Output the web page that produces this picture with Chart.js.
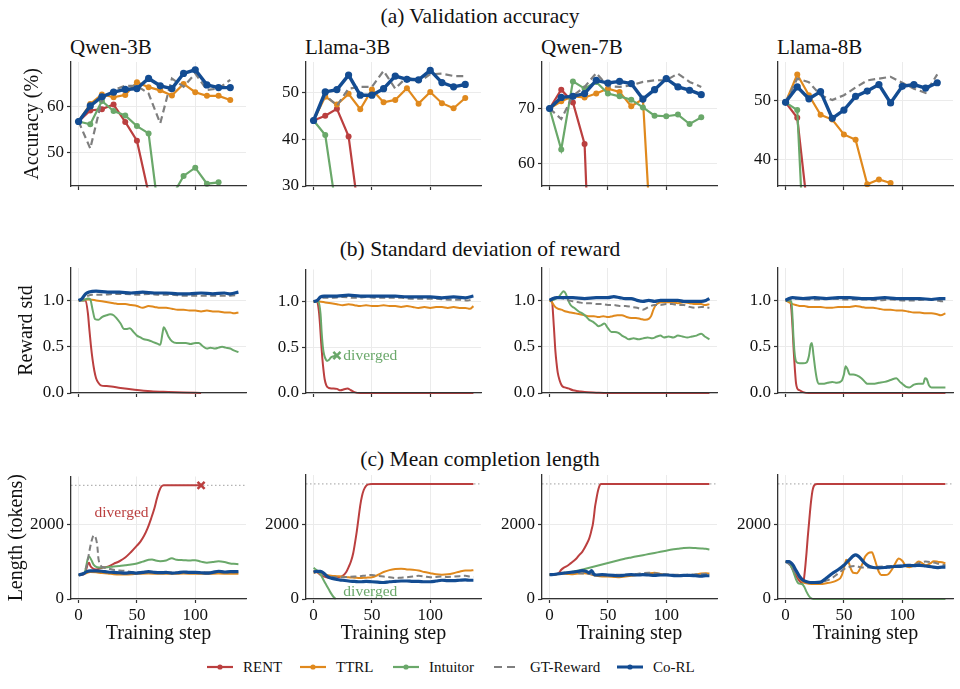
<!DOCTYPE html>
<html>
<head>
<meta charset="utf-8">
<script src="https://cdn.jsdelivr.net/npm/chart.js@4.4.1/dist/chart.umd.min.js"></script>
<style>
  html, body { margin: 0; padding: 0; background: #fff; }
  #fig { position: relative; width: 960px; height: 689px; overflow: hidden;
         font-family: "Liberation Serif", "Times New Roman", serif; color: #111; }
  #fig canvas { position: absolute; }
  .sec { position: absolute; left: 0; width: 960px; text-align: center; font-size: 21.5px; line-height: 22px; }
  .sub { position: absolute; font-size: 21px; line-height: 21px; white-space: nowrap; }
  .leg { position: absolute; top: 658px; font-size: 15px; line-height: 18px; display: flex; align-items: center; white-space: nowrap; }
  .leg svg { margin-right: 10px; }
</style>
</head>
<body>
<div id="fig">
  <div class="sec" style="top:5px">(a) Validation accuracy</div>
  <div class="sec" style="top:238px">(b) Standard deviation of reward</div>
  <div class="sec" style="top:448px">(c) Mean completion length</div>
</div>
<script>
// ---- labels ----
const models = ['Qwen-3B', 'Llama-3B', 'Qwen-7B', 'Llama-8B'];
const methods = ['RENT', 'TTRL', 'Intuitor', 'GT-Reward', 'Co-RL'];
const xTicks = [0, 50, 100];
const accTicks = [[50, 60], [30, 40, 50], [60, 70], [40, 50]];
const accRange = [[42.6, 69.7], [30, 56.5], [56, 78.4], [35.6, 56.5]];
const stdTicks = [0, 0.5, 1.0];
const lenTicks = [0, 2000];
const maxLen = 3072;

// ---- (a) validation accuracy, evaluated every 10 steps ----
const accSteps = [0, 10, 20, 30, 40, 50, 60, 70, 80, 90, 100, 110, 120, 130];

const accQwen3B_RENT = [56.7, 59.1, 59.4, 60.4, 56.6, 52.5, 41.0];
const accQwen3B_TTRL = [56.7, 60.5, 62.6, 62.0, 62.5, 65.3, 64.2, 63.5, 62.4, 64.9, 63.1, 62.3, 62.3, 61.4];
const accQwen3B_Intuitor = [56.7, 56.1, 61.2, 59.0, 58.0, 55.7, 54.1, 34.0, 40.3, 44.8, 46.6, 43.1, 43.4];
const accQwen3B_GT = [56.7, 50.8, 61.4, 63.6, 64.5, 64.5, 62.8, 56.3, 66.1, 64.3, 67.2, 63.6, 63.9, 65.8];
const accQwen3B_CoRL = [56.7, 60.1, 62.1, 63.1, 63.7, 63.9, 66.1, 64.5, 63.9, 67.2, 68.0, 64.7, 64.1, 64.1];

const accLlama3B_RENT = [44.0, 45.0, 46.5, 40.6, 21.7];
const accLlama3B_TTRL = [44.0, 49.1, 47.4, 49.7, 46.4, 50.6, 47.9, 48.4, 50.9, 47.6, 50.1, 47.7, 46.6, 48.8];
const accLlama3B_Intuitor = [44.0, 40.9, 24.0];
const accLlama3B_GT = [44.0, 49.4, 47.2, 50.8, 51.2, 51.2, 54.6, 50.8, 53.3, 52.2, 53.9, 54.0, 53.5, 53.5];
const accLlama3B_CoRL = [44.0, 50.1, 50.6, 53.7, 49.4, 49.4, 50.8, 53.5, 52.8, 52.7, 54.7, 52.1, 51.2, 51.7];

const accQwen7B_RENT = [70.0, 73.4, 71.1, 63.6, 10.0];
const accQwen7B_TTRL = [70.0, 71.3, 72.2, 72.0, 72.7, 73.6, 73.0, 70.4, 71.7, 35.0];
const accQwen7B_Intuitor = [70.0, 62.6, 74.9, 73.6, 74.8, 72.7, 72.2, 71.6, 70.2, 68.7, 68.6, 68.9, 67.2, 68.4];
const accQwen7B_GT = [70.0, 68.1, 72.3, 73.9, 76.4, 74.0, 73.9, 74.2, 74.8, 75.1, 75.1, 76.3, 74.8, 73.9];
const accQwen7B_CoRL = [70.0, 72.0, 72.2, 72.7, 75.1, 74.6, 74.9, 74.5, 71.7, 73.4, 75.4, 73.9, 73.3, 72.5];

const accLlama8B_RENT = [49.7, 47.1, 29.6];
const accLlama8B_TTRL = [49.7, 54.4, 50.9, 47.6, 46.8, 44.3, 43.4, 35.9, 36.7, 36.1];
const accLlama8B_Intuitor = [49.7, 48.4, 8.0];
const accLlama8B_GT = [49.7, 53.7, 53.1, 50.9, 50.1, 50.9, 52.2, 53.4, 53.7, 54.0, 53.0, 52.0, 51.3, 54.4];
const accLlama8B_CoRL = [49.7, 52.3, 50.3, 51.5, 47.0, 48.4, 50.7, 51.6, 52.7, 49.6, 52.4, 52.7, 52.1, 53.0];

// ---- (b) reward std, [step, value] ----
const stdQwen3B_RENT = [[0,1.0],[6,1.0],[8,0.86],[9,0.72],[10.5,0.52],[12,0.36],[13.5,0.24],[15,0.16],[17,0.11],[19,0.083],[24,0.075],[28,0.07],[36,0.054],[48,0.036],[62,0.02],[77,0.012],[90,0.006],[105,0.0]];
const stdQwen3B_TTRL = [[0,1.0],[5,1.01],[10,1.01],[15,1.0],[20,0.99],[25,0.98],[30,0.97],[35,0.96],[40,0.96],[45,0.95],[50,0.94],[55,0.92],[60,0.94],[65,0.93],[70,0.92],[75,0.92],[80,0.91],[85,0.9],[90,0.9],[95,0.89],[100,0.89],[105,0.88],[110,0.89],[115,0.88],[120,0.88],[125,0.87],[130,0.87],[133,0.86],[137,0.87]];
const stdQwen3B_Intuitor = [[0,1.0],[4,1.0],[8,1.02],[10,1.01],[12,0.9],[14,0.8],[17,0.79],[20,0.82],[24,0.84],[27,0.85],[30,0.84],[33,0.8],[36,0.75],[39,0.69],[41,0.69],[44,0.7],[47,0.66],[50,0.62],[53,0.6],[56,0.58],[60,0.57],[64,0.55],[68,0.53],[70,0.52],[72,0.65],[73,0.71],[75,0.67],[77,0.61],[80,0.56],[84,0.54],[88,0.54],[92,0.54],[96,0.53],[100,0.54],[103,0.54],[106,0.51],[110,0.48],[113,0.49],[117,0.48],[120,0.49],[123,0.5],[126,0.49],[130,0.48],[133,0.46],[137,0.44]];
const stdQwen3B_GT = [[0,1.0],[4,1.02],[8,1.05],[12,1.06],[20,1.06],[30,1.07],[40,1.07],[50,1.06],[60,1.07],[70,1.06],[80,1.06],[90,1.05],[100,1.05],[110,1.05],[120,1.05],[130,1.05],[137,1.06]];
const stdQwen3B_CoRL = [[0,1.0],[3,1.02],[6,1.07],[9,1.09],[15,1.1],[25,1.09],[35,1.09],[45,1.08],[55,1.09],[65,1.08],[75,1.08],[85,1.07],[95,1.07],[105,1.08],[115,1.07],[125,1.08],[130,1.07],[137,1.09]];

const stdLlama3B_RENT = [[0,1.0],[3,1.0],[4.5,0.9],[5.5,0.75],[6.5,0.55],[7.5,0.38],[8.5,0.25],[9.5,0.15],[11,0.08],[13,0.055],[16,0.05],[20,0.045],[23,0.03],[26,0.04],[29,0.05],[32,0.03],[35,0.01],[40,0.0],[137,0.0]];
const stdLlama3B_TTRL = [[0,1.0],[5,1.0],[10,0.99],[15,0.98],[20,0.97],[25,0.96],[30,0.97],[35,0.96],[40,0.95],[45,0.96],[50,0.95],[55,0.95],[60,0.96],[65,0.95],[70,0.95],[75,0.94],[80,0.95],[85,0.94],[90,0.93],[95,0.94],[100,0.93],[105,0.94],[110,0.94],[115,0.93],[120,0.94],[125,0.93],[130,0.93],[134,0.92],[137,0.95]];
const stdLlama3B_Intuitor = [[0,1.0],[4,1.0],[5,0.96],[6,0.86],[7,0.65],[8,0.5],[9,0.42],[10,0.38],[11.5,0.35],[13,0.36],[15,0.39],[17,0.4],[20,0.41]];
const stdLlama3B_GT = [[0,1.0],[4,1.02],[8,1.04],[15,1.04],[25,1.05],[35,1.04],[45,1.05],[55,1.04],[65,1.04],[75,1.04],[85,1.03],[95,1.03],[105,1.03],[115,1.02],[125,1.02],[132,1.01],[137,1.03]];
const stdLlama3B_CoRL = [[0,1.0],[3,1.01],[6,1.05],[9,1.06],[20,1.06],[30,1.07],[40,1.06],[50,1.06],[60,1.06],[70,1.06],[80,1.05],[90,1.05],[100,1.05],[110,1.04],[120,1.05],[130,1.04],[137,1.06]];

const stdQwen7B_RENT = [[0,1.0],[2,1.0],[3,0.85],[4,0.65],[5,0.45],[6,0.32],[7,0.22],[8.5,0.14],[10.5,0.08],[13,0.06],[16,0.05],[20,0.03],[25,0.02],[30,0.01],[40,0.004],[50,0.0],[137,0.0]];
const stdQwen7B_TTRL = [[0,1.0],[2,0.98],[4,0.94],[7,0.91],[10,0.9],[14,0.88],[18,0.87],[22,0.86],[26,0.85],[30,0.84],[34,0.83],[38,0.83],[42,0.82],[46,0.83],[50,0.82],[54,0.83],[58,0.84],[62,0.84],[66,0.82],[70,0.81],[74,0.81],[78,0.8],[82,0.79],[85,0.8],[87,0.83],[89,0.9],[91,0.95],[93,0.97],[96,0.98],[100,0.98],[105,0.98],[110,0.97],[115,0.98],[120,0.97],[125,0.96],[130,0.96],[133,0.95],[137,0.96]];
const stdQwen7B_Intuitor = [[0,1.0],[4,1.01],[8,1.04],[11,1.09],[12,1.1],[14,1.07],[16,1.0],[18,0.95],[21,0.92],[25,0.88],[28,0.86],[31,0.83],[34,0.79],[37,0.77],[40,0.74],[42,0.72],[44,0.73],[47,0.75],[50,0.7],[53,0.66],[56,0.66],[59,0.65],[62,0.62],[65,0.6],[68,0.58],[72,0.59],[76,0.58],[80,0.59],[84,0.6],[88,0.59],[92,0.61],[95,0.62],[98,0.6],[102,0.61],[106,0.6],[110,0.62],[114,0.61],[118,0.6],[122,0.61],[126,0.62],[130,0.64],[133,0.61],[137,0.58]];
const stdQwen7B_GT = [[0,1.0],[4,1.03],[8,1.03],[12,1.02],[16,1.0],[20,0.99],[25,0.98],[30,0.97],[35,0.97],[40,0.96],[45,0.96],[50,0.95],[55,0.95],[60,0.94],[65,0.94],[70,0.93],[75,0.92],[80,0.9],[85,0.93],[90,0.95],[95,0.95],[100,0.96],[105,0.96],[110,0.95],[115,0.95],[120,0.93],[125,0.92],[130,0.93],[137,0.92]];
const stdQwen7B_CoRL = [[0,1.0],[3,1.02],[6,1.03],[12,1.03],[20,1.03],[30,1.02],[40,1.03],[50,1.03],[55,1.04],[60,1.03],[65,1.02],[70,1.02],[75,1.0],[80,0.99],[85,1.0],[90,0.99],[95,1.0],[100,1.0],[105,1.0],[110,1.0],[115,0.99],[120,0.99],[125,0.99],[130,0.99],[134,1.0],[137,1.02]];

const stdLlama8B_RENT = [[0,1.0],[4,1.0],[5,0.9],[6,0.7],[7,0.45],[8,0.25],[9,0.1],[10,0.05],[12,0.03],[15,0.01],[20,0.0],[137,0.0]];
const stdLlama8B_TTRL = [[0,1.0],[3,0.98],[6,0.96],[9,0.95],[12,0.94],[16,0.94],[20,0.93],[25,0.93],[30,0.93],[35,0.92],[40,0.92],[45,0.93],[50,0.93],[55,0.93],[60,0.94],[65,0.93],[70,0.92],[75,0.92],[80,0.91],[85,0.9],[90,0.9],[95,0.89],[100,0.89],[105,0.88],[110,0.87],[115,0.87],[120,0.86],[125,0.86],[130,0.85],[133,0.84],[137,0.86]];
const stdLlama8B_Intuitor = [[0,1.0],[5,0.99],[6,0.8],[7,0.55],[8,0.4],[9,0.34],[12,0.32],[15,0.32],[18,0.33],[20,0.4],[21.5,0.52],[22.5,0.54],[24,0.4],[25.5,0.25],[27,0.14],[28.5,0.1],[32,0.1],[36,0.11],[40,0.12],[44,0.11],[48,0.13],[50,0.2],[51.5,0.29],[53,0.26],[55,0.2],[58,0.2],[61,0.19],[65,0.16],[68,0.12],[70,0.1],[75,0.1],[80,0.11],[85,0.12],[90,0.14],[95,0.16],[98,0.12],[100,0.1],[103,0.07],[106,0.06],[110,0.09],[114,0.1],[118,0.1],[119.5,0.16],[121,0.15],[123,0.08],[125,0.06],[130,0.06],[137,0.06]];
const stdLlama8B_GT = [[0,1.0],[4,1.01],[10,1.02],[20,1.01],[30,1.01],[40,1.02],[50,1.01],[60,1.01],[70,1.01],[80,1.0],[90,1.01],[100,1.0],[110,1.0],[120,1.01],[130,1.0],[134,0.99],[137,1.0]];
const stdLlama8B_CoRL = [[0,1.0],[3,1.02],[6,1.03],[15,1.02],[25,1.03],[35,1.02],[45,1.03],[55,1.03],[65,1.02],[75,1.02],[85,1.03],[95,1.02],[105,1.02],[115,1.02],[125,1.01],[132,1.02],[137,1.02]];

// ---- (c) mean completion length, [step, tokens] ----
const lenQwen3B_RENT = [[0,650],[4,660],[6,750],[8,950],[9,980],[10,900],[12,830],[15,800],[18,820],[21,850],[25,870],[30,950],[35,1020],[40,1120],[45,1270],[50,1440],[53,1550],[56,1700],[59,1900],[62,2160],[65,2450],[67,2700],[69,2910],[71,3040],[73,3072],[105,3072]];
const lenQwen3B_TTRL = [[0,650],[5,680],[10,730],[15,720],[20,700],[25,690],[30,670],[35,660],[40,660],[50,680],[60,690],[70,680],[80,680],[90,690],[100,680],[110,680],[120,690],[130,680],[137,680]];
const lenQwen3B_Intuitor = [[0,650],[5,700],[8,1100],[9,1150],[11,1050],[13,920],[16,860],[20,850],[25,860],[30,880],[35,890],[40,910],[45,930],[50,960],[55,1010],[60,1060],[63,1070],[66,1040],[70,1020],[75,1040],[80,1100],[84,1060],[90,1050],[95,1040],[100,1050],[105,1010],[110,980],[115,1000],[120,1020],[125,1000],[130,960],[133,950],[137,940]];
const lenQwen3B_GT = [[0,650],[4,700],[7,900],[9,1250],[11,1550],[13,1720],[14,1700],[16,1450],[17,1100],[19,900],[22,850],[26,820],[30,790],[35,770],[40,760],[45,730],[50,720],[60,720],[70,710],[80,720],[90,710],[100,720],[110,720],[120,730],[130,720],[137,740]];
const lenQwen3B_CoRL = [[0,650],[4,680],[7,740],[10,760],[15,760],[20,750],[25,730],[30,720],[35,710],[40,700],[45,710],[50,700],[55,720],[60,740],[65,720],[70,710],[75,720],[80,700],[85,710],[90,730],[95,720],[100,720],[105,710],[110,700],[115,720],[120,750],[125,730],[130,740],[137,740]];

const lenLlama3B_RENT = [[0,750],[3,720],[6,640],[9,600],[13,570],[17,560],[21,580],[25,620],[28,720],[30,850],[32,1000],[34,1230],[35.5,1500],[37,1800],[38.5,2150],[40,2500],[41.5,2750],[43,2910],[45,3020],[47,3060],[50,3072],[137,3072]];
const lenLlama3B_TTRL = [[0,700],[3,720],[6,700],[10,650],[15,620],[20,610],[25,600],[30,580],[35,570],[40,560],[45,570],[50,580],[55,640],[60,720],[65,770],[70,800],[75,810],[80,790],[85,780],[90,760],[95,720],[100,690],[105,660],[110,650],[115,660],[120,690],[125,730],[130,760],[134,760],[137,770]];
const lenLlama3B_Intuitor = [[0,830],[3,760],[5,700],[7,600],[9,480],[11,370],[13,260],[15,150],[17,60],[19,0]];
const lenLlama3B_GT = [[0,750],[4,720],[8,650],[12,610],[16,590],[20,580],[25,580],[30,590],[35,600],[40,610],[45,630],[50,640],[55,620],[60,600],[65,580],[70,560],[75,570],[80,580],[85,600],[90,620],[95,600],[100,580],[105,590],[110,600],[115,590],[120,600],[125,610],[130,620],[134,600],[137,590]];
const lenLlama3B_CoRL = [[0,720],[3,740],[6,740],[9,680],[12,600],[16,550],[20,520],[25,500],[30,480],[35,470],[40,460],[45,470],[50,460],[55,450],[60,440],[65,460],[70,470],[75,480],[80,480],[85,470],[90,470],[95,460],[100,460],[105,480],[110,500],[115,490],[120,490],[125,500],[130,510],[134,500],[137,500]];

const lenQwen7B_RENT = [[0,650],[5,650],[8,700],[10,780],[12,830],[15,880],[18,950],[20,1000],[23,1080],[25,1160],[28,1260],[30,1360],[32,1480],[34,1620],[35,1720],[36,1850],[37,1980],[38,2200],[39,2470],[40,2650],[41,2820],[42,2950],[43,3040],[44,3072],[137,3072]];
const lenQwen7B_TTRL = [[0,650],[5,660],[10,680],[15,670],[20,660],[25,680],[30,690],[35,660],[40,620],[45,600],[50,600],[55,590],[60,580],[65,600],[70,620],[75,640],[80,650],[85,680],[90,700],[95,670],[100,650],[105,640],[110,640],[115,630],[120,620],[125,650],[130,680],[134,690],[137,680]];
const lenQwen7B_Intuitor = [[0,650],[5,660],[10,690],[15,710],[20,730],[25,760],[30,800],[35,840],[40,880],[45,920],[50,960],[55,1000],[60,1040],[65,1080],[70,1110],[75,1140],[80,1170],[85,1200],[90,1230],[95,1260],[100,1290],[105,1320],[110,1340],[115,1360],[120,1370],[125,1360],[130,1350],[134,1340],[137,1320]];
const lenQwen7B_GT = [[0,650],[5,670],[10,700],[15,710],[20,700],[25,690],[30,680],[35,670],[40,650],[45,640],[50,630],[55,640],[60,650],[65,650],[70,660],[75,670],[80,690],[85,700],[90,690],[95,670],[100,660],[105,650],[110,650],[115,640],[120,650],[125,660],[130,670],[137,670]];
const lenQwen7B_CoRL = [[0,650],[5,660],[10,680],[15,700],[20,720],[25,740],[28,760],[31,740],[34,700],[36,760],[38,660],[40,640],[45,650],[50,640],[55,630],[60,620],[65,640],[70,650],[75,640],[80,650],[85,640],[90,630],[95,640],[100,640],[105,630],[110,620],[115,630],[120,630],[125,620],[130,610],[134,620],[137,620]];

const lenLlama8B_RENT = [[0,1000],[3,950],[6,800],[9,620],[12,480],[14,430],[15,440],[16,600],[17,900],[18,1250],[19,1650],[20,2000],[21,2350],[22,2650],[23,2880],[24,3000],[25,3050],[27,3072],[137,3072]];
const lenLlama8B_TTRL = [[0,1000],[3,960],[6,850],[9,700],[12,550],[15,450],[20,410],[25,400],[30,400],[35,420],[40,450],[44,500],[47,560],[49,700],[51,950],[52,1050],[54,980],[56,800],[58,700],[61,690],[63,760],[66,950],[68,1120],[70,1200],[72,1240],[74,1250],[76,1100],[78,900],[80,720],[82,640],[85,640],[88,660],[91,780],[94,950],[97,1080],[100,1020],[103,880],[106,850],[110,900],[114,1000],[117,960],[120,900],[124,950],[127,1010],[131,990],[134,980],[137,950]];
const lenLlama8B_Intuitor = [[0,1000],[3,950],[5,850],[7,700],[9,520],[11,420],[14,400],[16,330],[18,190],[20,80],[22,20],[24,0],[137,0]];
const lenLlama8B_GT = [[0,1000],[4,900],[8,720],[12,560],[16,480],[20,450],[25,440],[30,450],[35,490],[40,560],[45,680],[50,800],[55,860],[60,880],[65,840],[70,840],[75,850],[80,860],[85,870],[90,880],[95,890],[100,900],[105,910],[110,920],[115,960],[120,1000],[125,980],[130,950],[134,920],[137,900]];
const lenLlama8B_CoRL = [[0,1000],[3,1000],[6,920],[9,760],[12,600],[15,500],[18,460],[21,440],[25,440],[30,450],[35,560],[40,680],[45,780],[50,900],[55,1060],[58,1150],[60,1180],[62,1150],[65,1060],[68,950],[71,880],[75,840],[80,830],[85,840],[90,860],[95,870],[100,880],[105,900],[110,890],[115,900],[120,880],[125,860],[130,840],[134,850],[137,850]];

// ---- panel tables (method order as in `methods`) ----
const accPanels = [
  [accQwen3B_RENT, accQwen3B_TTRL, accQwen3B_Intuitor, accQwen3B_GT, accQwen3B_CoRL],
  [accLlama3B_RENT, accLlama3B_TTRL, accLlama3B_Intuitor, accLlama3B_GT, accLlama3B_CoRL],
  [accQwen7B_RENT, accQwen7B_TTRL, accQwen7B_Intuitor, accQwen7B_GT, accQwen7B_CoRL],
  [accLlama8B_RENT, accLlama8B_TTRL, accLlama8B_Intuitor, accLlama8B_GT, accLlama8B_CoRL]
];
const stdPanels = [
  [stdQwen3B_RENT, stdQwen3B_TTRL, stdQwen3B_Intuitor, stdQwen3B_GT, stdQwen3B_CoRL],
  [stdLlama3B_RENT, stdLlama3B_TTRL, stdLlama3B_Intuitor, stdLlama3B_GT, stdLlama3B_CoRL],
  [stdQwen7B_RENT, stdQwen7B_TTRL, stdQwen7B_Intuitor, stdQwen7B_GT, stdQwen7B_CoRL],
  [stdLlama8B_RENT, stdLlama8B_TTRL, stdLlama8B_Intuitor, stdLlama8B_GT, stdLlama8B_CoRL]
];
const lenPanels = [
  [lenQwen3B_RENT, lenQwen3B_TTRL, lenQwen3B_Intuitor, lenQwen3B_GT, lenQwen3B_CoRL],
  [lenLlama3B_RENT, lenLlama3B_TTRL, lenLlama3B_Intuitor, lenLlama3B_GT, lenLlama3B_CoRL],
  [lenQwen7B_RENT, lenQwen7B_TTRL, lenQwen7B_Intuitor, lenQwen7B_GT, lenQwen7B_CoRL],
  [lenLlama8B_RENT, lenLlama8B_TTRL, lenLlama8B_Intuitor, lenLlama8B_GT, lenLlama8B_CoRL]
];

// ---- styling / layout ----
const FONT = '"Liberation Serif", "Times New Roman", serif';
const colors = { 'RENT': '#bb3f3f', 'TTRL': '#e0891d', 'Intuitor': '#6aa86a', 'GT-Reward': '#7f7f7f', 'Co-RL': '#134c92' };
const drawOrder = { 'Co-RL': 0, 'GT-Reward': 1, 'Intuitor': 2, 'TTRL': 3, 'RENT': 4 };
const colLeft = [71, 306, 542, 778];
const plotW = 175;
const rowTop = [62, 268, 475];
const plotH = [124, 125, 124];
const yTitles = ['Accuracy (%)', 'Reward std', 'Length (tokens)'];
const yTitleX = [33, 27, 17];
const fig = document.getElementById('fig');

const notePlugin = {
  id: 'notes',
  afterDatasetsDraw(chart, args, opts) {
    const { ctx } = chart;
    const xs = chart.scales.x, ys = chart.scales.y;
    ctx.save();
    ctx.font = '15.5px ' + FONT;
    ctx.textAlign = 'left';
    ctx.textBaseline = 'middle';
    (opts.items || []).forEach(n => {
      ctx.fillStyle = n.color;
      ctx.fillText(n.text, xs.getPixelForValue(n.x), ys.getPixelForValue(n.y));
    });
    ctx.restore();
  }
};

function seriesStyle(m, withMarkers) {
  const big = m === 'Co-RL';
  const s = {
    label: m,
    borderColor: colors[m],
    backgroundColor: colors[m],
    borderWidth: big ? 3.4 : 2.2,
    pointRadius: withMarkers && m !== 'GT-Reward' ? (big ? 3.6 : 3) : 0,
    pointBorderWidth: 0,
    pointBackgroundColor: colors[m],
    order: drawOrder[m],
    clip: 1.5,
    fill: false
  };
  if (m === 'GT-Reward') s.borderDash = withMarkers ? [7, 4] : [6, 3.5];
  if (!withMarkers) {
    s.borderWidth = big ? 3.2 : 2;
    s.cubicInterpolationMode = 'monotone';
  }
  return s;
}

// fixed scale boxes so every plot area lands where the reference has it
function fixBox(s, size) {
  if (s.isHorizontal()) s.height = size; else s.width = size;
  s.paddingTop = 0; s.paddingBottom = 0; s.paddingLeft = 0; s.paddingRight = 0;
}

function makeChart(row, col, datasets, yMin, yMax, yTickVals, fmt, notes) {
  const padTop = 6, padRight = 8;
  const yW = col === 0 ? colLeft[0] - (yTitleX[row] - 12) : 50;
  const xH = row === 2 ? 47 : 12;
  const w = yW + plotW + padRight, h = padTop + plotH[row] + xH;
  const cv = document.createElement('canvas');
  cv.width = w; cv.height = h;
  cv.style.left = (colLeft[col] - yW) + 'px';
  cv.style.top = (rowTop[row] - padTop) + 'px';
  cv.style.width = w + 'px'; cv.style.height = h + 'px';
  fig.appendChild(cv);

  const gridOpt = { color: '#ebebeb', lineWidth: 1, tickColor: '#333', tickLength: 4, tickWidth: 1.2 };
  const borderOpt = { display: true, color: '#333', width: 1.3, z: 1 };

  new Chart(cv, {
    type: 'line',
    data: { datasets },
    options: {
      responsive: false,
      animation: false,
      layout: { padding: { top: padTop, right: padRight, left: 0, bottom: 0 } },
      plugins: { legend: { display: false }, tooltip: { enabled: false }, notes: { items: notes || [] } },
      scales: {
        x: {
          type: 'linear', min: -6.5, max: 143.5,
          afterFit: s => fixBox(s, xH),
          afterBuildTicks: s => { s.ticks = xTicks.map(v => ({ value: v })); },
          grid: gridOpt, border: borderOpt,
          ticks: { display: row === 2, font: { family: FONT, size: 17 }, color: '#111', padding: 2, maxRotation: 0, autoSkip: false },
          title: { display: row === 2, text: 'Training step', font: { family: FONT, size: 20 }, color: '#111', padding: 0 }
        },
        y: {
          type: 'linear', min: yMin, max: yMax,
          afterFit: s => fixBox(s, yW),
          afterBuildTicks: s => { s.ticks = yTickVals.map(v => ({ value: v })); },
          grid: gridOpt, border: borderOpt,
          ticks: { font: { family: FONT, size: 17 }, color: '#111', padding: 3, autoSkip: false, callback: v => fmt(v) },
          title: { display: col === 0, text: yTitles[row], font: { family: FONT, size: 20 }, color: '#111', padding: 0 }
        }
      }
    },
    plugins: [notePlugin]
  });
}

// row (a)
models.forEach((name, c) => {
  const sub = document.createElement('div');
  sub.className = 'sub';
  sub.style.left = (colLeft[c] - 1) + 'px';
  sub.style.top = '37px';
  sub.textContent = name;
  fig.appendChild(sub);

  const ds = methods.map((m, i) => Object.assign(seriesStyle(m, true), {
    data: accPanels[c][i].map((v, k) => ({ x: accSteps[k], y: v }))
  }));
  makeChart(0, c, ds, accRange[c][0], accRange[c][1], accTicks[c], v => String(v));
});

// row (b)
models.forEach((name, c) => {
  const ds = methods.map((m, i) => Object.assign(seriesStyle(m, false), { data: stdPanels[c][i] }));
  const notes = [];
  if (c === 1) {
    ds.push({ data: [[20, 0.41]], showLine: false, pointStyle: 'crossRot', pointRadius: 5,
              pointBorderWidth: 2.5, pointBorderColor: colors['Intuitor'], order: -1, clip: false });
    notes.push({ x: 25.5, y: 0.41, text: 'diverged', color: colors['Intuitor'] });
  }
  makeChart(1, c, ds, 0, 1.35, stdTicks, v => v.toFixed(1), notes);
});

// row (c)
models.forEach((name, c) => {
  const ds = methods.map((m, i) => Object.assign(seriesStyle(m, false), { data: lenPanels[c][i] }));
  ds.push({ data: [[-6.5, maxLen], [143.5, maxLen]], borderColor: '#a0a0a0', borderWidth: 1,
            borderDash: [1.5, 2.5], pointRadius: 0, order: 10 });
  const notes = [];
  if (c === 0) {
    ds.push({ data: [[105, maxLen]], showLine: false, pointStyle: 'crossRot', pointRadius: 5,
              pointBorderWidth: 2.5, pointBorderColor: colors['RENT'], order: -1, clip: false });
    notes.push({ x: 13.7, y: 2330, text: 'diverged', color: colors['RENT'] });
  }
  if (c === 1) notes.push({ x: 25.5, y: 190, text: 'diverged', color: colors['Intuitor'] });
  makeChart(2, c, ds, 0, 3310, lenTicks, v => String(v), notes);
});

// legend
const legLeft = [207, 300, 393, 494, 617];
methods.forEach((m, i) => {
  const d = document.createElement('div');
  d.className = 'leg';
  d.style.left = legLeft[i] + 'px';
  const col = colors[m];
  let svg;
  if (m === 'GT-Reward') {
    svg = `<svg width="26" height="10"><line x1="0" y1="5" x2="22" y2="5" stroke="${col}" stroke-width="2.2" stroke-dasharray="8,5"/></svg>`;
  } else {
    const sw = m === 'Co-RL' ? 3 : 2.2;
    svg = `<svg width="26" height="10"><line x1="0" y1="5" x2="26" y2="5" stroke="${col}" stroke-width="${sw}"/><circle cx="13" cy="5" r="2.6" fill="${col}"/></svg>`;
  }
  d.innerHTML = svg + '<span>' + m + '</span>';
  fig.appendChild(d);
});
</script>
</body>
</html>
